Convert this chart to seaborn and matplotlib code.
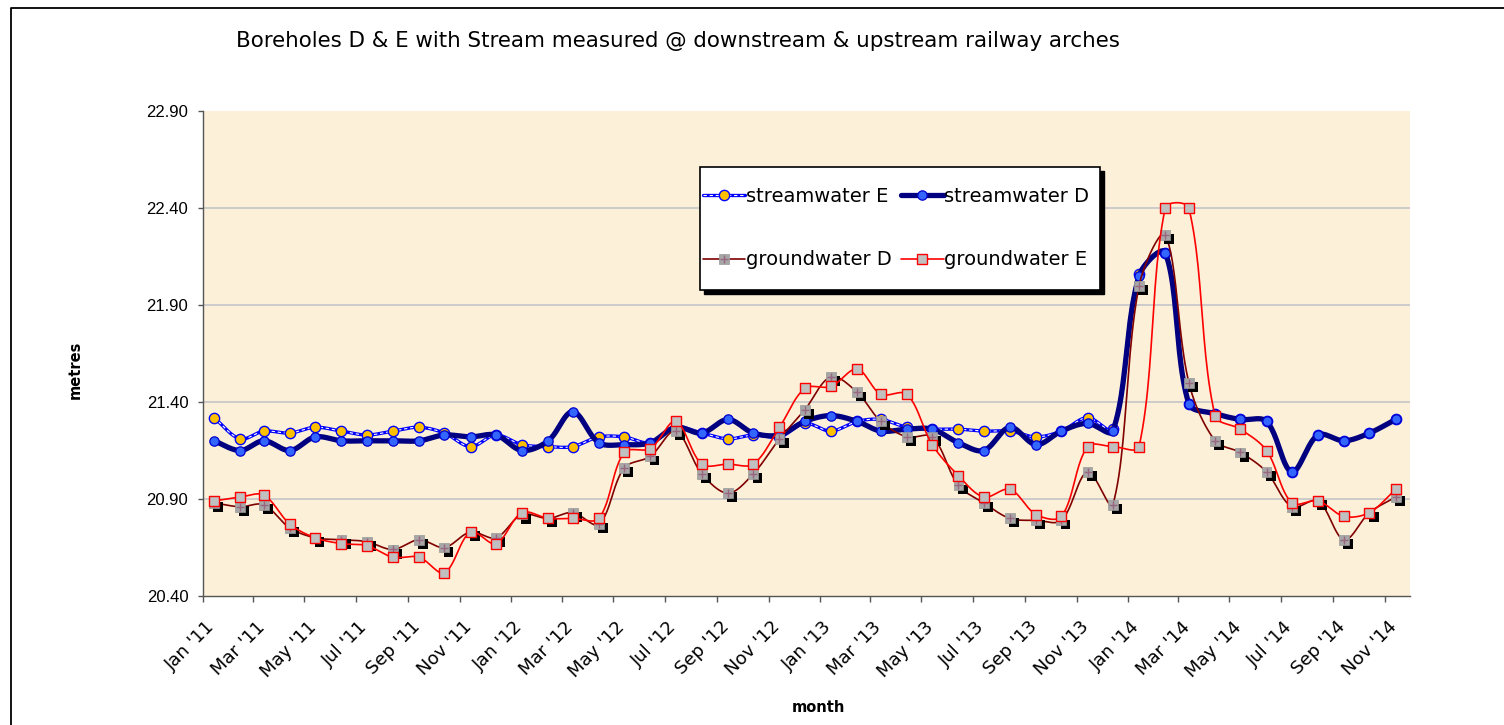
import numpy as np
import pandas as pd
import seaborn as sns
import matplotlib
matplotlib.use("Agg")
import matplotlib.pyplot as plt
import matplotlib.dates as mdates
import matplotlib.patheffects as pe
from matplotlib.lines import Line2D
from matplotlib.patches import Rectangle
from matplotlib.transforms import ScaledTranslation

sns.set_theme(style="white")
plt.rcParams["font.family"] = ["DejaVu Sans"]
plt.rcParams["text.color"] = "black"
plt.rcParams["xtick.color"] = "black"
plt.rcParams["ytick.color"] = "black"

# monthly readings, taken mid-month, Jan 2011 - Nov 2014
months = pd.date_range("2011-01-01", periods=47, freq="MS") + pd.Timedelta(days=13)

stream_e = [21.32, 21.21, 21.25, 21.24, 21.27, 21.25, 21.23, 21.25, 21.27, 21.24,
            21.17, 21.23, 21.18, 21.17, 21.17, 21.22, 21.22, 21.19, 21.27, 21.24,
            21.21, 21.23, 21.22, 21.29, 21.25, 21.30, 21.31, 21.27, 21.26, 21.26,
            21.25, 21.25, 21.22, 21.25, 21.32, 21.26, 22.06, 22.17, 21.39, 21.34,
            21.31, 21.30, 21.04, 21.23, 21.20, 21.24, 21.31]
stream_d = [21.20, 21.15, 21.20, 21.15, 21.22, 21.20, 21.20, 21.20, 21.20, 21.23,
            21.22, 21.23, 21.15, 21.20, 21.35, 21.19, 21.18, 21.19, 21.27, 21.24,
            21.31, 21.24, 21.23, 21.30, 21.33, 21.30, 21.25, 21.26, 21.26, 21.19,
            21.15, 21.27, 21.18, 21.25, 21.29, 21.25, 22.05, 22.17, 21.39, 21.34,
            21.31, 21.30, 21.04, 21.23, 21.20, 21.24, 21.31]
ground_d = [20.88, 20.86, 20.87, 20.75, 20.70, 20.69, 20.68, 20.64, 20.69, 20.65,
            20.73, 20.70, 20.82, 20.80, 20.83, 20.77, 21.06, 21.12, 21.25, 21.03,
            20.93, 21.03, 21.21, 21.36, 21.53, 21.45, 21.30, 21.22, 21.22, 20.97,
            20.88, 20.80, 20.79, 20.79, 21.04, 20.87, 22.00, 22.26, 21.50, 21.20,
            21.14, 21.04, 20.86, 20.89, 20.69, 20.83, 20.91]
ground_e = [20.89, 20.91, 20.92, 20.77, 20.70, 20.67, 20.66, 20.60, 20.60, 20.52,
            20.73, 20.67, 20.83, 20.80, 20.80, 20.80, 21.14, 21.16, 21.30, 21.08,
            21.08, 21.08, 21.27, 21.47, 21.48, 21.57, 21.44, 21.44, 21.18, 21.02,
            20.91, 20.95, 20.82, 20.81, 21.17, 21.17, 21.17, 22.40, 22.40, 21.33,
            21.26, 21.15, 20.88, 20.89, 20.81, 20.83, 20.95]

yticks = [20.40, 20.90, 21.40, 21.90, 22.40, 22.90]
title = "Boreholes D & E with Stream measured @ downstream & upstream railway arches"

fig = plt.figure(figsize=(15.04, 7.25), dpi=100)
fig.patch.set_facecolor("white")
ax = fig.add_axes([203 / 1504, 1 - 596 / 725, (1410 - 203) / 1504, (596 - 111) / 725])
ax.set_facecolor("#FCF0D8")
ax.set_xlim(mdates.date2num(pd.Timestamp("2011-01-01")), mdates.date2num(pd.Timestamp("2014-12-01")))
ax.set_ylim(yticks[0], yticks[-1])

xnum = mdates.date2num(months)


def smooth(x, y, n=24):
    # excel-like smoothed line: chord-weighted catmull-rom in screen space
    p = ax.transData.transform(np.column_stack([x, y]))
    P = np.vstack([p[0], p, p[-1]])
    t = np.linspace(0, 1, n, endpoint=False)[:, None]
    segs = []
    for i in range(1, len(P) - 2):
        p0, p1, p2, p3 = P[i - 1], P[i], P[i + 1], P[i + 2]
        l01 = np.linalg.norm(p1 - p0)
        l12 = np.linalg.norm(p2 - p1)
        l23 = np.linalg.norm(p3 - p2)
        f1 = l12 / (l01 + l12) / 3 if l01 + l12 > 0 else 0
        f2 = l12 / (l12 + l23) / 3 if l12 + l23 > 0 else 0
        c1 = p1 + (p2 - p0) * f1
        c2 = p2 - (p3 - p1) * f2
        segs.append((1 - t) ** 3 * p1 + 3 * (1 - t) ** 2 * t * c1 + 3 * (1 - t) * t ** 2 * c2 + t ** 3 * p2)
    segs.append(p[-1:])
    out = ax.transData.inverted().transform(np.vstack(segs))
    return pd.DataFrame({"x": out[:, 0], "y": out[:, 1]})


for v in yticks[1:-1]:
    ax.axhline(v, color="#C9C9C9", lw=1.3, zorder=0.5)

# streamwater E
s = smooth(xnum, stream_e)
sns.lineplot(data=s, x="x", y="y", sort=False, estimator=None, color="#0000FF", lw=2.4, ax=ax, zorder=2)
sns.lineplot(data=s, x="x", y="y", sort=False, estimator=None, color="white", lw=0.8,
             linestyle=(0, (3, 2.5)), ax=ax, zorder=2.1)
sns.scatterplot(x=xnum, y=stream_e, marker="o", s=55, color="#FFC000", edgecolor="#0000FF",
                linewidth=1.0, ax=ax, zorder=2.2)

# streamwater D
s = smooth(xnum, stream_d)
sns.lineplot(data=s, x="x", y="y", sort=False, estimator=None, color="#000080", lw=3.8, ax=ax, zorder=3)
sns.scatterplot(x=xnum, y=stream_d, marker="o", s=45, color="#3366FF", edgecolor="#0000CC",
                linewidth=0.9, ax=ax, zorder=3.2)

# groundwater D
s = smooth(xnum, ground_d)
sns.lineplot(data=s, x="x", y="y", sort=False, estimator=None, color="#800000", lw=1.2, ax=ax, zorder=4)
sns.scatterplot(x=xnum, y=ground_d, marker="s", s=50, color="#A6A6A6", edgecolor="#999999",
                linewidth=0.5, ax=ax, zorder=4.2,
                path_effects=[pe.SimplePatchShadow(offset=(3, -3), shadow_rgbFace="black", alpha=1.0), pe.Normal()])
sns.scatterplot(x=xnum, y=ground_d, marker="+", s=30, color="#996680", linewidth=1.0, ax=ax, zorder=4.3)

# groundwater E
s = smooth(xnum, ground_e)
sns.lineplot(data=s, x="x", y="y", sort=False, estimator=None, color="#FF0000", lw=1.2, ax=ax, zorder=5)
sns.scatterplot(x=xnum, y=ground_e, marker="s", s=50, color="#C0C0C0", edgecolor="#FF0000",
                linewidth=1.0, ax=ax, zorder=5.2)

# axes
ax.set_xlim(mdates.date2num(pd.Timestamp("2011-01-01")), mdates.date2num(pd.Timestamp("2014-12-01")))
ax.set_ylim(yticks[0], yticks[-1])
ax.set_yticks(yticks)
ax.set_yticklabels([f"{v:.2f}" for v in yticks], family="Liberation Sans", fontsize=12)
ax.xaxis.set_major_locator(mdates.MonthLocator(bymonth=[1, 3, 5, 7, 9, 11]))
ax.xaxis.set_major_formatter(mdates.DateFormatter("%b '%y"))
ax.set_xlabel("")
ax.set_ylabel("")
for side in ["top", "right"]:
    ax.spines[side].set_visible(False)
for side in ["left", "bottom"]:
    ax.spines[side].set_color("#555555")
    ax.spines[side].set_linewidth(1.0)
ax.tick_params(axis="y", direction="out", length=3.6, width=1, color="#555555", pad=7, left=True)
ax.tick_params(axis="x", direction="out", length=4.3, width=1, color="#555555", pad=16, bottom=True)
ax.grid(False)
shift = ScaledTranslation(9 / 100, 0, fig.dpi_scale_trans)
for lab in ax.get_xticklabels():
    lab.set_rotation(45)
    lab.set_rotation_mode("anchor")
    lab.set_ha("right")
    lab.set_va("center")
    lab.set_fontsize(13)
    lab.set_transform(lab.get_transform() + shift)

# legend: frame and shadow drawn as figure patches, entries without frame
fig.add_artist(Rectangle((704 / 1504, 1 - 294 / 725), 400 / 1504, 123 / 725, transform=fig.transFigure,
                         facecolor="black", edgecolor="black", lw=1, zorder=9))
fig.add_artist(Rectangle((700 / 1504, 1 - 290 / 725), 400 / 1504, 123 / 725, transform=fig.transFigure,
                         facecolor="white", edgecolor="black", lw=1.2, zorder=9.5))
h_se = (Line2D([], [], color="#0000FF", lw=2.4),
        Line2D([], [], color="white", lw=0.8, ls=(0, (3, 2.5))),
        Line2D([], [], ls="none", marker="o", ms=7.4, mfc="#FFC000", mec="#0000FF", mew=1))
h_sd = (Line2D([], [], color="#000080", lw=3.8),
        Line2D([], [], ls="none", marker="o", ms=6.7, mfc="#3366FF", mec="#0000CC", mew=0.9))
h_gd = (Line2D([], [], color="#800000", lw=1.2),
        Line2D([], [], ls="none", marker="s", ms=7, mfc="#A6A6A6", mec="#999999", mew=0.5),
        Line2D([], [], ls="none", marker="+", ms=5.5, mec="#996680", mew=1))
h_ge = (Line2D([], [], color="#FF0000", lw=1.2),
        Line2D([], [], ls="none", marker="s", ms=7, mfc="#C0C0C0", mec="#FF0000", mew=1))
leg = fig.legend(handles=[h_se, h_gd, h_sd, h_ge],
                 labels=["streamwater E", "groundwater D", "streamwater D", "groundwater E"],
                 ncols=2, loc="center", bbox_to_anchor=(896 / 1504, 1 - 228 / 725),
                 bbox_transform=fig.transFigure, fontsize=14, frameon=False,
                 handlelength=2.2, handletextpad=0.05, columnspacing=0.45, labelspacing=2.3,
                 borderpad=0, borderaxespad=0)
leg.set_zorder(10)

# text
fig.text(678 / 1504, 1 - 41 / 725, title, ha="center", va="center", fontsize=15.4)
fig.text(75 / 1504, 1 - 370 / 725, "metres", ha="center", va="center", rotation=90,
         fontsize=10.5, weight="bold")
fig.text(818 / 1504, 1 - 708 / 725, "month", ha="center", va="center", fontsize=10.5, weight="bold")

# chart area border (top and left edges visible)
fig.add_artist(Line2D([11 / 1504, 11 / 1504, 1.0], [0.0, 1 - 8 / 725, 1 - 8 / 725],
                      transform=fig.transFigure, color="black", lw=1.3))

fig.savefig("out.png", dpi=100, facecolor="white")
